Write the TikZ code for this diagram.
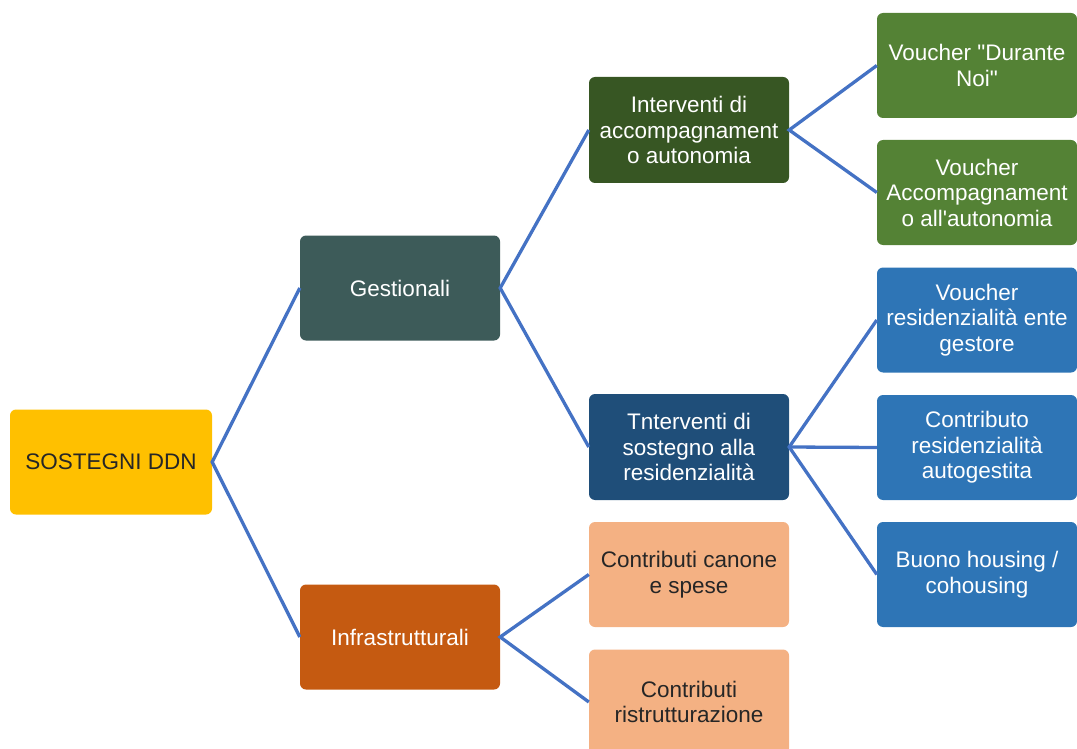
\documentclass[tikz,border=0pt]{standalone}
\usepackage{fontspec}
\setmainfont{Liberation Sans}[Ligatures=TeXOff]
\definecolor{cRoot}{HTML}{FFC000}
\definecolor{cGest}{HTML}{3D5B59}
\definecolor{cInfra}{HTML}{C55A11}
\definecolor{cAcc}{HTML}{375623}
\definecolor{cRes}{HTML}{1F4E79}
\definecolor{cPeach}{HTML}{F4B183}
\definecolor{cGreen}{HTML}{548235}
\definecolor{cBlue}{HTML}{2E75B6}
\definecolor{cLine}{HTML}{4472C4}
\definecolor{cDark}{HTML}{262626}
\tikzset{
  box/.style={rounded corners=6pt, minimum width=200pt, minimum height=105pt, inner sep=2pt,
    align=center, font=\fontsize{22.5}{25.5}\selectfont, text=white},
  link/.style={draw=cLine, line width=3.3pt}
}
\begin{document}
\begin{tikzpicture}[x=1pt,y=-1pt]
\useasboundingbox (0,0) rectangle (1077,749);
\clip (0,0) rectangle (1077,749);
\node[box, fill=cRoot, text=cDark, minimum width=202pt] (root) at (111,462) {SOSTEGNI DDN};
\node[box, fill=cGest] (gest) at (400,288) {Gestionali};
\node[box, fill=cInfra] (infra) at (400,637) {Infrastrutturali};
\node[box, fill=cAcc, minimum height=106pt] (acc) at (689,130) {Interventi di\\accompagnament\\o autonomia};
\node[box, fill=cRes, minimum height=106pt] (res) at (689,447) {Tnterventi di\\sostegno alla\\residenzialità};
\node[box, fill=cPeach, text=cDark] (canone) at (689,574.5) {Contributi canone\\e spese};
\node[box, fill=cPeach, text=cDark] (ristr) at (689,702) {Contributi\\ristrutturazione};
\node[box, fill=cGreen] (vdn) at (977,65.5) {Voucher "Durante\\Noi"};
\node[box, fill=cGreen] (vacc) at (977,192.5) {Voucher\\Accompagnament\\o all'autonomia};
\node[box, fill=cBlue] (vres) at (977,320) {Voucher\\residenzialità ente\\gestore};
\node[box, fill=cBlue] (cres) at (977,447.5) {Contributo\\residenzialità\\autogestita};
\node[box, fill=cBlue] (buono) at (977,574.5) {Buono housing /\\cohousing};
\draw[link] (gest.west) -- (root.east) -- (infra.west);
\draw[link] (acc.west) -- (gest.east) -- (res.west);
\draw[link] (canone.west) -- (infra.east) -- (ristr.west);
\draw[link] (vdn.west) -- (acc.east) -- (vacc.west);
\draw[link] (vres.west) -- (res.east) -- (buono.west);
\draw[link] (res.east) -- (cres.west);
\end{tikzpicture}
\end{document}
